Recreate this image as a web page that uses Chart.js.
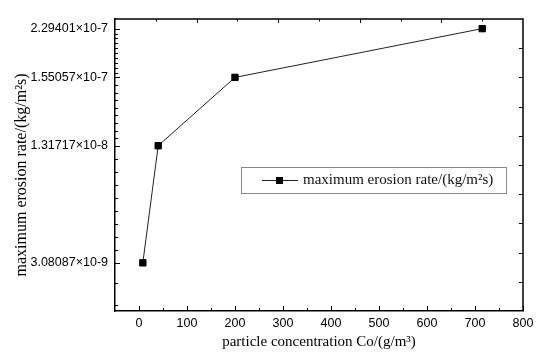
<!DOCTYPE html>
<html><head><meta charset="utf-8">
<script src="https://cdn.jsdelivr.net/npm/chart.js@4/dist/chart.umd.min.js"></script>
<style>html,body{margin:0;padding:0;background:#fff}#wrap{width:550px;height:358px}</style>
</head><body><div id="wrap"><canvas id="c" width="550" height="358"></canvas></div>
<script>
// ---- data ----
const concentration = [8, 40, 200, 715];                 // Co (g/m^3)
const erosionLevel = [1.65, 5.66, 8.0, 9.67];             // plotted level on the (unlabelled) axis
const erosionRateLabels = ['3.08087×10-9', '1.31717×10-8', '1.55057×10-7', '2.29401×10-7'];
const xTickValues = [0, 100, 200, 300, 400, 500, 600, 700, 800];
const xMinorTickValues = [50, 150, 250, 350, 450, 550, 650, 750];
const yMinorDivisions = [9, 9, 10];                       // minor divisions between labelled levels (bottom to top)
const yExtraMinorTicks = [0.2, 0.97];
const seriesLabel = 'maximum erosion rate/(kg/m²s)';
const xTitle = 'particle concentration Co/(g/m³)';
const yTitle = 'maximum erosion rate/(kg/m²s)';

const SANS = "'Liberation Sans', Arial, sans-serif";
const SERIF = "'Liberation Serif', 'Times New Roman', serif";

const framePlugin = {
  id: 'frame',
  afterDraw(chart) {
    const ctx = chart.ctx, a = chart.chartArea;
    const xs = chart.scales.x, ys = chart.scales.y, x2 = chart.scales.x2;
    ctx.save();
    ctx.strokeStyle = '#000';
    ctx.lineWidth = 1.5;
    ctx.beginPath();
    ctx.moveTo(a.left, a.top); ctx.lineTo(a.right, a.top); ctx.lineTo(a.right, a.bottom);
    ctx.stroke();
    ctx.lineWidth = 1;
    const tick = (x1, y1, x2_, y2_) => { ctx.beginPath(); ctx.moveTo(x1, y1); ctx.lineTo(x2_, y2_); ctx.stroke(); };
    // bottom ticks
    xTickValues.forEach(v => { const p = Math.round(xs.getPixelForValue(v)) + 0.5; tick(p, a.bottom, p, a.bottom - 5); });
    xMinorTickValues.forEach(v => { const p = Math.round(xs.getPixelForValue(v)) + 0.5; tick(p, a.bottom, p, a.bottom - 3); });
    // left ticks
    erosionLevel.forEach(v => { const p = Math.round(ys.getPixelForValue(v)) + 0.5; tick(a.left, p, a.left + 5, p); });
    for (let i = 0; i < erosionLevel.length - 1; i++) {
      const lo = erosionLevel[i], hi = erosionLevel[i + 1], n = yMinorDivisions[i];
      for (let k = 1; k < n; k++) {
        const p = Math.round(ys.getPixelForValue(lo + (hi - lo) * k / n)) + 0.5;
        tick(a.left, p, a.left + 3, p);
      }
    }
    yExtraMinorTicks.forEach(v => { const p = Math.round(ys.getPixelForValue(v)) + 0.5; tick(a.left, p, a.left + 3, p); });
    // right ticks
    for (let k = 1; k < 10; k++) { const p = Math.round(ys.getPixelForValue(k)) + 0.5; tick(a.right, p, a.right - 4, p); }
    // top ticks
    for (let k = 1; k < 10; k++) { const p = Math.round(x2.getPixelForValue(k)) + 0.5; tick(p, a.top, p, a.top + (k % 2 === 0 ? 4 : 2.5)); }
    // legend
    const lx = a.left + 126, ly = a.top + 148, lw = 265, lh = 26;
    ctx.strokeStyle = '#888';
    ctx.lineWidth = 1;
    ctx.strokeRect(lx + 0.5, ly + 0.5, lw, lh);
    const cy = ly + lh / 2 + 0.5;
    ctx.strokeStyle = '#222';
    tick(lx + 21, cy, lx + 57, cy);
    ctx.fillStyle = '#000';
    ctx.fillRect(lx + 35, cy - 3.5, 7, 7);
    ctx.font = '15px ' + SERIF;
    ctx.textBaseline = 'middle';
    ctx.textAlign = 'left';
    ctx.fillStyle = '#111';
    ctx.fillText(chart.data.datasets[0].label, lx + 62, cy);
    ctx.restore();
  }
};

new Chart(document.getElementById('c'), {
  type: 'line',
  data: {
    datasets: [{
      label: seriesLabel,
      data: concentration.map((c, i) => ({ x: c, y: erosionLevel[i] })),
      borderColor: '#222',
      borderWidth: 1,
      pointStyle: 'rect',
      pointRadius: 4.5,
      pointBackgroundColor: '#000',
      pointBorderColor: '#000',
      pointBorderWidth: 1,
      tension: 0
    }]
  },
  options: {
    responsive: false,
    devicePixelRatio: 1,
    animation: false,
    layout: { padding: { top: 19, right: 27, left: 0, bottom: 0 } },
    plugins: { legend: { display: false }, tooltip: { enabled: false } },
    scales: {
      x: {
        type: 'linear', position: 'bottom', min: -50, max: 800,
        afterBuildTicks: s => { s.ticks = xTickValues.map(v => ({ value: v })); },
        afterFit: s => { s.height = 47; },
        ticks: { font: { family: SANS, size: 12.5 }, color: '#000', padding: 5, maxRotation: 0 },
        grid: { drawOnChartArea: false, drawTicks: false },
        border: { color: '#000', width: 1.5 },
        title: { display: true, text: xTitle, color: '#000', font: { family: SERIF, size: 15 }, padding: { top: 0, bottom: 7 } }
      },
      x2: { type: 'linear', position: 'top', min: 0, max: 10, display: false },
      y: {
        type: 'linear', position: 'left', min: 0, max: 10,
        afterBuildTicks: s => { s.ticks = erosionLevel.map(v => ({ value: v })); },
        afterFit: s => { s.width = 115; },
        ticks: { font: { family: SANS, size: 12.5 }, color: '#000', padding: 7, autoSkip: false,
                 callback: (v, i) => erosionRateLabels[i] },
        grid: { drawOnChartArea: false, drawTicks: false },
        border: { color: '#000', width: 1.5 },
        title: { display: true, text: yTitle + '     ', color: '#000', font: { family: SERIF, size: 16 }, padding: { top: 12, bottom: 0 } }
      }
    }
  },
  plugins: [framePlugin]
});
</script>
</body></html>
